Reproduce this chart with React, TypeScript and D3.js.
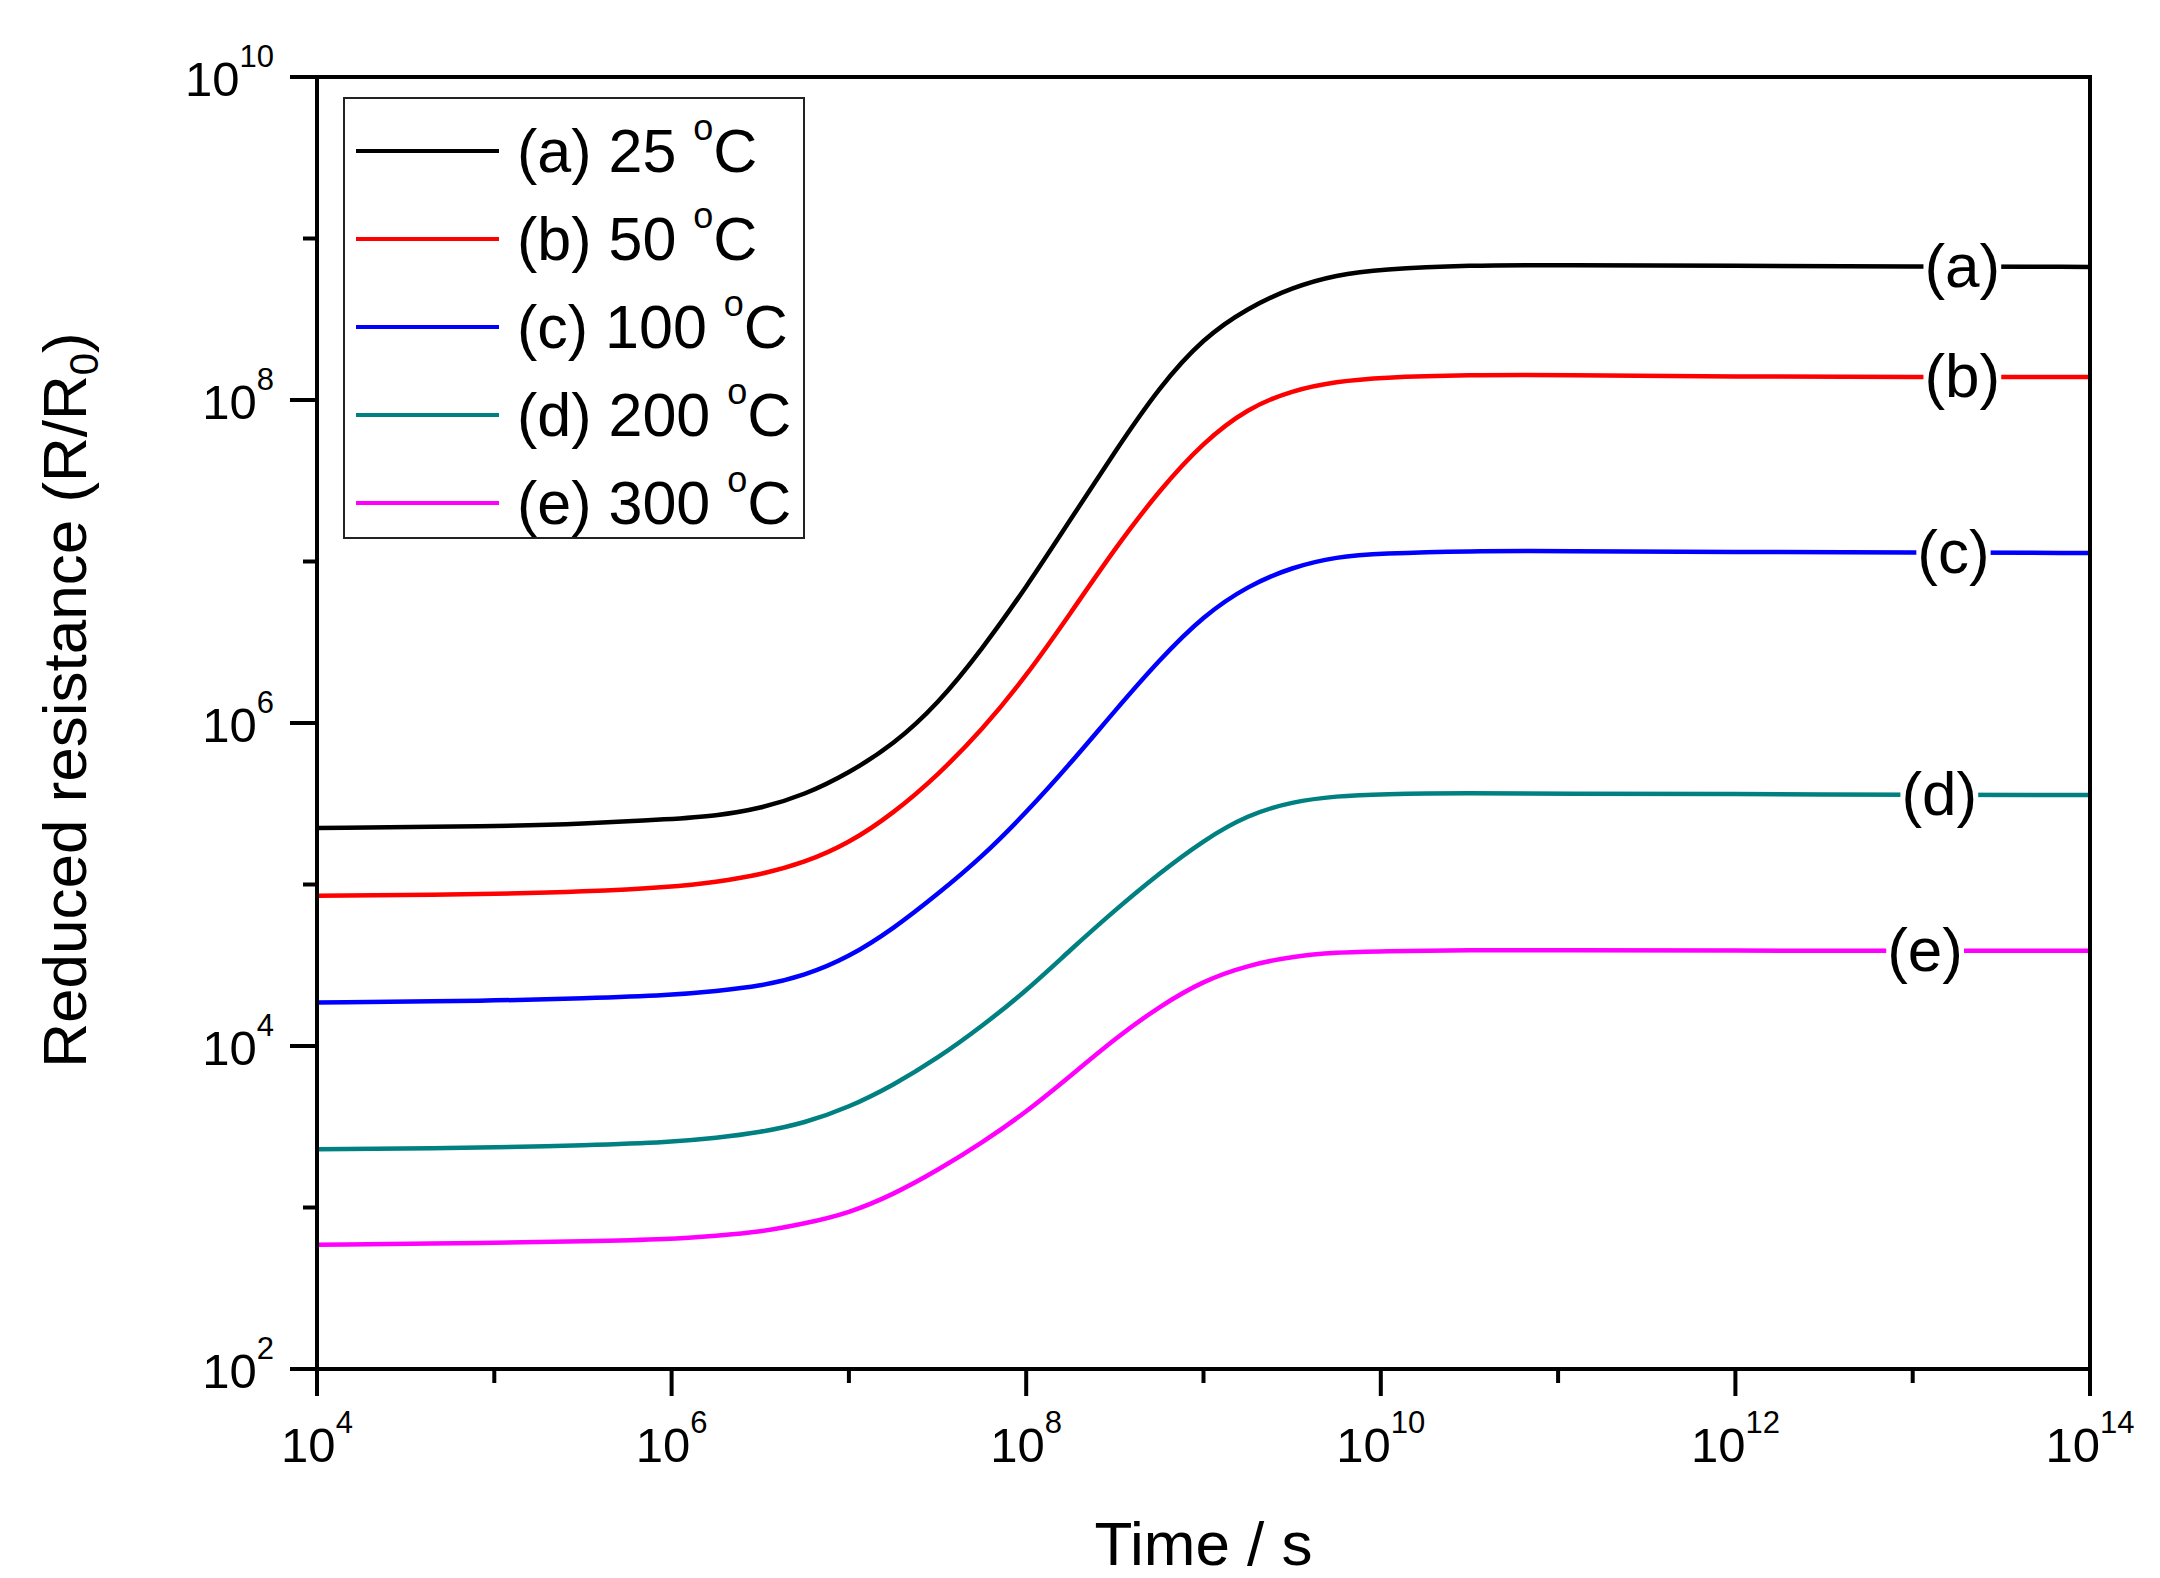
import { useEffect, useRef } from "react";
import * as d3 from "d3";

// time axis in decades (log10 t / s)
const TIME_EXP = [4, 5, 5.5, 6, 6.25, 6.5, 6.75, 7, 7.25, 7.5, 7.75, 8, 8.25, 8.5, 8.75, 9, 9.25, 9.5, 9.75, 10, 10.5, 11, 12, 13, 14];

// log10(R/R0) for each temperature
const LOG_R_25 = [5.35, 5.36, 5.375, 5.405, 5.425, 5.47, 5.555, 5.69, 5.865, 6.115, 6.455, 6.84, 7.26, 7.68, 8.08, 8.385, 8.57, 8.698, 8.775, 8.81, 8.835, 8.836, 8.83, 8.827, 8.824];
const LOG_R_50 = [4.93, 4.94, 4.955, 4.985, 5.015, 5.06, 5.135, 5.255, 5.44, 5.675, 5.955, 6.29, 6.68, 7.08, 7.44, 7.74, 7.95, 8.06, 8.115, 8.14, 8.155, 8.155, 8.145, 8.142, 8.142];
const LOG_R_100 = [4.27, 4.28, 4.295, 4.315, 4.34, 4.37, 4.435, 4.55, 4.725, 4.94, 5.17, 5.445, 5.75, 6.075, 6.39, 6.665, 6.85, 6.965, 7.03, 7.05, 7.065, 7.065, 7.059, 7.055, 7.053];
const LOG_R_200 = [3.36, 3.37, 3.385, 3.405, 3.43, 3.465, 3.523, 3.62, 3.757, 3.924, 4.122, 4.341, 4.596, 4.841, 5.069, 5.274, 5.432, 5.513, 5.548, 5.56, 5.567, 5.562, 5.56, 5.556, 5.554];
const LOG_R_300 = [2.77, 2.78, 2.79, 2.804, 2.825, 2.848, 2.9, 2.965, 3.08, 3.23, 3.4, 3.59, 3.815, 4.045, 4.245, 4.405, 4.5, 4.555, 4.58, 4.587, 4.594, 4.594, 4.59, 4.59, 4.59];

const SERIES_KEYS = ["(a)", "(b)", "(c)", "(d)", "(e)"];
const SERIES_TEMPS = ["25", "50", "100", "200", "300"];
const SERIES_COLORS = ["#000000", "#ff0000", "#0000ff", "#008080", "#ff00ff"];
const SERIES_VALUES = [LOG_R_25, LOG_R_50, LOG_R_100, LOG_R_200, LOG_R_300];
// where the "(a)".."(e)" tags sit along the time axis (decades)
const LABEL_AT = [13.28, 13.28, 13.23, 13.15, 13.07];

const X_TICK_EXP = [4, 6, 8, 10, 12, 14];
const X_MINOR_EXP = [5, 7, 9, 11, 13];
const Y_TICK_EXP = [2, 4, 6, 8, 10];
const Y_MINOR_EXP = [3, 5, 7, 9];

const FONT = "'Liberation Sans', Arial, Helvetica, sans-serif";

export default function App() {
  const svgRef = useRef<SVGSVGElement>(null);

  useEffect(() => {
    if (!svgRef.current) return;
    const svg = d3.select(svgRef.current);
    svg.selectAll("*").remove();

    const W = 2160;
    const H = 1578;
    const margin = { top: 77, right: 70, bottom: 209, left: 317 };
    const x0 = margin.left;
    const x1 = W - margin.right;
    const y0 = margin.top;
    const y1 = H - margin.bottom;

    svg.attr("width", W).attr("height", H).attr("font-family", FONT);
    svg.append("rect").attr("width", W).attr("height", H).attr("fill", "#fff");

    const x = d3.scaleLog().domain([1e4, 1e14]).range([x0, x1]);
    const y = d3.scaleLog().domain([1e2, 1e10]).range([y1, y0]);

    // curves (B-spline through the read-off points to keep them smooth)
    SERIES_VALUES.forEach((vals, i) => {
      const pts = TIME_EXP.map((t, j) => [10 ** t, 10 ** vals[j]] as [number, number]);
      const line = d3
        .line<[number, number]>()
        .x((d) => x(d[0]))
        .y((d) => y(d[1]))
        .curve(d3.curveBasis);
      svg
        .append("path")
        .datum(pts)
        .attr("fill", "none")
        .attr("stroke", SERIES_COLORS[i])
        .attr("stroke-width", 4.5)
        .attr("stroke-linejoin", "round")
        .attr("d", line);
    });

    // tags at right end of curves, with white knock-out behind
    SERIES_KEYS.forEach((key, i) => {
      const vals = SERIES_VALUES[i];
      const cy = y(10 ** vals[vals.length - 1]);
      const cx = x(10 ** LABEL_AT[i]);
      const g = svg.append("g");
      const bg = g.append("rect").attr("fill", "#fff");
      const t = g
        .append("text")
        .attr("x", cx)
        .attr("y", cy + 20)
        .attr("text-anchor", "middle")
        .attr("font-size", 62)
        .attr("fill", "#000")
        .text(key);
      const bb = (t.node() as SVGTextElement).getBBox();
      bg.attr("x", bb.x - 1)
        .attr("y", cy - 8)
        .attr("width", bb.width + 2)
        .attr("height", 16);
    });

    // frame
    const axisColor = "#000";
    svg
      .append("rect")
      .attr("x", x0)
      .attr("y", y0)
      .attr("width", x1 - x0)
      .attr("height", y1 - y0)
      .attr("fill", "none")
      .attr("stroke", axisColor)
      .attr("stroke-width", 4);

    // x ticks
    X_TICK_EXP.forEach((e) => {
      svg
        .append("line")
        .attr("x1", x(10 ** e))
        .attr("x2", x(10 ** e))
        .attr("y1", y1)
        .attr("y2", y1 + 27)
        .attr("stroke", axisColor)
        .attr("stroke-width", 4);
      const t = svg
        .append("text")
        .attr("x", x(10 ** e))
        .attr("y", y1 + 93)
        .attr("text-anchor", "middle")
        .attr("font-size", 49)
        .attr("fill", "#000");
      t.append("tspan").text("10");
      t.append("tspan").attr("font-size", 31).attr("dy", -29).text(String(e));
    });
    X_MINOR_EXP.forEach((e) => {
      svg
        .append("line")
        .attr("x1", x(10 ** e))
        .attr("x2", x(10 ** e))
        .attr("y1", y1)
        .attr("y2", y1 + 14)
        .attr("stroke", axisColor)
        .attr("stroke-width", 4);
    });

    // y ticks
    Y_TICK_EXP.forEach((e) => {
      svg
        .append("line")
        .attr("x1", x0)
        .attr("x2", x0 - 27)
        .attr("y1", y(10 ** e))
        .attr("y2", y(10 ** e))
        .attr("stroke", axisColor)
        .attr("stroke-width", 4);
      const t = svg
        .append("text")
        .attr("x", x0 - 43)
        .attr("y", y(10 ** e) + 19)
        .attr("text-anchor", "end")
        .attr("font-size", 49)
        .attr("fill", "#000");
      t.append("tspan").text("10");
      t.append("tspan").attr("font-size", 31).attr("dy", -29).text(String(e));
    });
    Y_MINOR_EXP.forEach((e) => {
      svg
        .append("line")
        .attr("x1", x0)
        .attr("x2", x0 - 14)
        .attr("y1", y(10 ** e))
        .attr("y2", y(10 ** e))
        .attr("stroke", axisColor)
        .attr("stroke-width", 4);
    });

    // axis titles
    svg
      .append("text")
      .attr("x", (x0 + x1) / 2)
      .attr("y", 1565)
      .attr("text-anchor", "middle")
      .attr("font-size", 62)
      .attr("fill", "#000")
      .text("Time / s");

    const yt = svg
      .append("text")
      .attr("transform", `translate(86,700) rotate(-90)`)
      .attr("text-anchor", "middle")
      .attr("font-size", 62)
      .attr("fill", "#000");
    yt.append("tspan").text("Reduced resistance (R/R");
    yt.append("tspan").attr("font-size", 40).attr("dy", 12).text("0");
    yt.append("tspan").attr("dy", -12).text(")");

    // legend
    const lg = svg.append("g");
    lg.append("rect")
      .attr("x", 344)
      .attr("y", 98)
      .attr("width", 460)
      .attr("height", 440)
      .attr("fill", "#fff")
      .attr("stroke", "#222")
      .attr("stroke-width", 2);
    SERIES_KEYS.forEach((key, i) => {
      const ly = 151 + i * 88;
      lg.append("line")
        .attr("x1", 356)
        .attr("x2", 499)
        .attr("y1", ly)
        .attr("y2", ly)
        .attr("stroke", SERIES_COLORS[i])
        .attr("stroke-width", 4);
      const t = lg
        .append("text")
        .attr("x", 517)
        .attr("y", ly + 21)
        .attr("font-size", 61)
        .attr("fill", "#000");
      t.append("tspan").text(`${key} ${SERIES_TEMPS[i]} `);
      t.append("tspan").attr("font-size", 36).attr("dy", -32).text("o");
      t.append("tspan").attr("dy", 32).text("C");
    });
  }, []);

  return (
    <svg
      ref={svgRef}
      style={{ position: "absolute", left: 0, top: 0, display: "block" }}
    />
  );
}
